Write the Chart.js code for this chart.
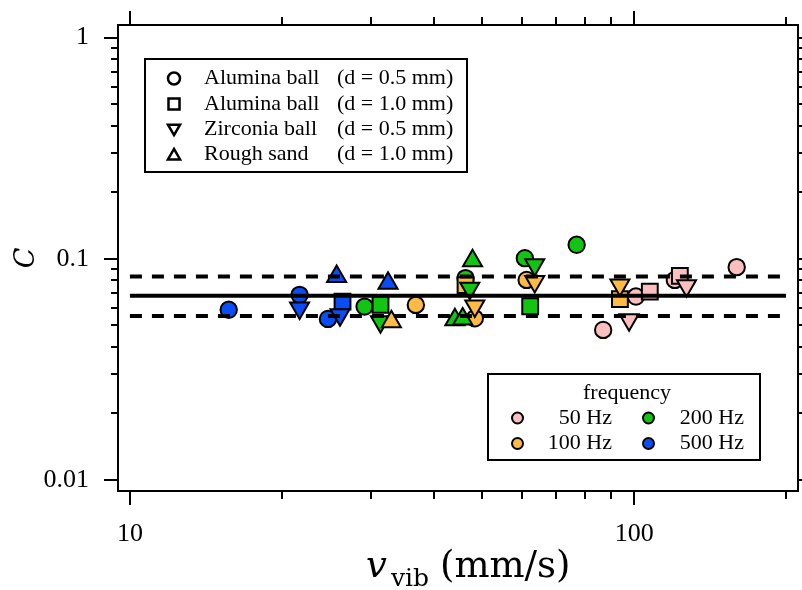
<!DOCTYPE html>
<html>
<head>
<meta charset="utf-8">
<script src="https://cdn.jsdelivr.net/npm/chart.js@4.4.1/dist/chart.umd.min.js"></script>
<style>
  html, body { margin: 0; padding: 0; background: #fff; }
  #contenedor { width: 802px; height: 590px; }
</style>
</head>
<body>
<div id="contenedor"><canvas id="grafico" width="802" height="590"></canvas></div>
<script>
// --- DATOS ---
const freqNombres = ['50 Hz', '100 Hz', '200 Hz', '500 Hz'];
const freqColores = ['#fbbfc0', '#fdba45', '#12c512', '#0b4df5'];

// Alumina ball (d = 0.5 mm) -> circulos ; freq = indice en freqNombres
const circV = [15.7, 21.7, 24.7, 29.2, 46.3, 60.7, 76.9, 36.9, 48.3, 61.2, 86.8, 100.8, 120.4, 159.7];
const circC = [0.0588, 0.0687, 0.0535, 0.0608, 0.0818, 0.1007, 0.1157, 0.0619, 0.0538, 0.0803, 0.0477, 0.0675, 0.0803, 0.0917];
const circF = [3, 3, 3, 2, 2, 2, 2, 1, 1, 1, 0, 0, 0, 0];

// Alumina ball (d = 1.0 mm) -> cuadrados
const cuadV = [26.4, 31.4, 62.2, 46.3, 93.7, 107.4, 123.2];
const cuadC = [0.064, 0.0619, 0.061, 0.076, 0.0657, 0.0711, 0.0837];
const cuadF = [3, 2, 2, 1, 1, 0, 0];

// Zirconia ball (d = 0.5 mm) -> triangulos invertidos
const zircV = [21.7, 26.1, 31.4, 47.2, 63.5, 48.3, 63.5, 93.7, 97.7, 127];
const zircC = [0.060, 0.0558, 0.052, 0.0736, 0.094, 0.0612, 0.0789, 0.0762, 0.053, 0.0755];
const zircF = [3, 3, 2, 2, 2, 1, 1, 1, 0, 0];

// Rough sand (d = 1.0 mm) -> triangulos
const arenaV = [25.7, 32.5, 44.1, 45.7, 47.8, 33.0];
const arenaC = [0.0832, 0.0776, 0.053, 0.0535, 0.098, 0.052];
const arenaF = [3, 3, 2, 2, 2, 1];

// Ajuste y banda
const lineaV = [10, 200];
const ajusteC = 0.068;
const superiorC = 0.0832;
const inferiorC = 0.0551;

// Marcas de ejes
const xTicks = [10, 20, 30, 40, 50, 60, 70, 80, 90, 100, 200];
const xMayores = [10, 100];
const xEtiquetas = ['10', '100'];
const yTicks = [0.01, 0.02, 0.03, 0.04, 0.05, 0.06, 0.07, 0.08, 0.09,
                0.1, 0.2, 0.3, 0.4, 0.5, 0.6, 0.7, 0.8, 0.9, 1];
const yMayores = [0.01, 0.1, 1];
const yEtiquetas = ['0.01', '0.1', '1'];

const leyendaMateriales = [
  { forma: 'circulo', nombre: 'Alumina ball', d: '(d = 0.5 mm)' },
  { forma: 'cuadrado', nombre: 'Alumina ball', d: '(d = 1.0 mm)' },
  { forma: 'invertido', nombre: 'Zirconia ball', d: '(d = 0.5 mm)' },
  { forma: 'triangulo', nombre: 'Rough sand', d: '(d = 1.0 mm)' }
];

function puntos(vs, cs) { return vs.map((v, i) => ({ x: v, y: cs[i] })); }
function colores(fs) { return fs.map(f => freqColores[f]); }

const serif = '"Liberation Serif", "Times New Roman", serif';

// --- MARCAS, MARCO, LEYENDAS Y TITULO X ---
function dibujarForma(ctx, forma, x, y, r) {
  ctx.beginPath();
  if (forma === 'circulo') {
    ctx.arc(x, y, r, 0, Math.PI * 2);
  } else if (forma === 'cuadrado') {
    ctx.rect(x - r, y - r, 2 * r, 2 * r);
  } else if (forma === 'triangulo') {
    ctx.moveTo(x, y - r * 1.05);
    ctx.lineTo(x + r * 1.1, y + r * 0.85);
    ctx.lineTo(x - r * 1.1, y + r * 0.85);
    ctx.closePath();
  } else {
    ctx.moveTo(x, y + r * 1.05);
    ctx.lineTo(x + r * 1.1, y - r * 0.85);
    ctx.lineTo(x - r * 1.1, y - r * 0.85);
    ctx.closePath();
  }
}

const decoracion = {
  id: 'decoracion',
  afterDraw(chart) {
    const { ctx, chartArea: a, scales: { x, y } } = chart;
    ctx.save();
    ctx.strokeStyle = '#000';
    ctx.fillStyle = '#000';

    // marco
    ctx.lineWidth = 2;
    ctx.strokeRect(a.left, a.top, a.right - a.left, a.bottom - a.top);

    // marcas hacia afuera
    ctx.beginPath();
    xTicks.forEach(v => {
      const px = Math.round(x.getPixelForValue(v));
      const len = xMayores.includes(v) ? 14 : 8;
      ctx.moveTo(px, a.bottom); ctx.lineTo(px, a.bottom + len);
      ctx.moveTo(px, a.top); ctx.lineTo(px, a.top - len);
    });
    yTicks.forEach(v => {
      const py = Math.round(y.getPixelForValue(v));
      const len = yMayores.includes(v) ? 14 : 7;
      ctx.moveTo(a.left, py); ctx.lineTo(a.left - len, py);
      ctx.moveTo(a.right, py); ctx.lineTo(a.right + len, py);
    });
    ctx.stroke();

    // leyenda de materiales
    ctx.fillStyle = '#fff';
    ctx.fillRect(145, 59, 322, 113);
    ctx.lineWidth = 2;
    ctx.strokeRect(145, 59, 322, 113);
    ctx.font = '22px ' + serif;
    ctx.textBaseline = 'middle';
    ctx.textAlign = 'left';
    leyendaMateriales.forEach((m, i) => {
      const fy = 78.5 + i * 25.4;
      ctx.lineWidth = 2.5;
      ctx.strokeStyle = '#000';
      dibujarForma(ctx, m.forma, 174, fy, m.forma === 'circulo' ? 6 : 5.5);
      ctx.stroke();
      ctx.fillStyle = '#000';
      ctx.fillText(m.nombre, 204, fy);
      ctx.fillText(m.d, 337, fy);
    });

    // leyenda de frecuencias
    ctx.fillStyle = '#fff';
    ctx.fillRect(488, 374, 272, 86);
    ctx.lineWidth = 2;
    ctx.strokeRect(488, 374, 272, 86);
    ctx.fillStyle = '#000';
    ctx.textAlign = 'center';
    ctx.fillText('frequency', 627, 393);
    const colsX = [517.5, 648.5];
    const colsTexto = [612, 744];
    freqNombres.forEach((nombre, i) => {
      const col = i < 2 ? 0 : 1;
      const fy = i % 2 === 0 ? 418 : 443.5;
      ctx.lineWidth = 2;
      ctx.fillStyle = freqColores[i];
      dibujarForma(ctx, 'circulo', colsX[col], fy, 5.5);
      ctx.fill();
      ctx.stroke();
      ctx.fillStyle = '#000';
      ctx.textAlign = 'right';
      ctx.fillText(nombre, colsTexto[col], fy);
    });

    // titulo eje x con subindice
    ctx.textAlign = 'left';
    ctx.textBaseline = 'alphabetic';
    ctx.font = 'italic 37px "DejaVu Serif", serif';
    ctx.fillText('v', 366, 577);
    ctx.font = '25px "DejaVu Serif", serif';
    ctx.fillText('vib', 391, 586);
    ctx.font = '37px "DejaVu Serif", serif';
    ctx.fillText('(mm/s)', 440, 577);

    ctx.restore();
  }
};

// --- CONSTRUCCION DEL GRAFICO ---
const ctx = document.getElementById('grafico').getContext('2d');
const miGrafico = new Chart(ctx, {
  data: {
    datasets: [
      { type: 'line', label: 'ajuste', data: puntos(lineaV, [ajusteC, ajusteC]), borderColor: '#000', borderWidth: 4, pointRadius: 0, order: 0 },
      { type: 'line', label: 'superior', data: puntos(lineaV, [superiorC, superiorC]), borderColor: '#000', borderWidth: 4, borderDash: [12, 10], pointRadius: 0, order: 0 },
      { type: 'line', label: 'inferior', data: puntos(lineaV, [inferiorC, inferiorC]), borderColor: '#000', borderWidth: 4, borderDash: [12, 10], pointRadius: 0, order: 0 },
      { type: 'scatter', label: 'Rough sand', data: puntos(arenaV, arenaC), pointStyle: 'triangle', pointRadius: 11, backgroundColor: colores(arenaF), borderColor: '#000', borderWidth: 2, order: 1 },
      { type: 'scatter', label: 'Zirconia ball', data: puntos(zircV, zircC), pointStyle: 'triangle', rotation: 180, pointRadius: 11, backgroundColor: colores(zircF), borderColor: '#000', borderWidth: 2, order: 2 },
      { type: 'scatter', label: 'Alumina ball 1.0', data: puntos(cuadV, cuadC), pointStyle: 'rect', pointRadius: 11.2, backgroundColor: colores(cuadF), borderColor: '#000', borderWidth: 2, order: 3 },
      { type: 'scatter', label: 'Alumina ball 0.5', data: puntos(circV, circC), pointStyle: 'circle', pointRadius: 8.2, backgroundColor: colores(circF), borderColor: '#000', borderWidth: 2, order: 4 }
    ]
  },
  options: {
    responsive: false,
    devicePixelRatio: 1,
    animation: false,
    layout: { autoPadding: false, padding: { top: 25, right: 4, left: 0, bottom: 0 } },
    plugins: { legend: { display: false }, tooltip: { enabled: false } },
    scales: {
      x: {
        type: 'logarithmic',
        position: 'bottom',
        min: 9.47,
        max: 211.3,
        grid: { display: false, drawTicks: false },
        border: { display: false },
        afterBuildTicks: s => { s.ticks = xTicks.map(v => ({ value: v })); },
        afterFit: s => { s.height = 99; s.paddingLeft = 0; s.paddingRight = 0; },
        ticks: {
          autoSkip: false,
          maxRotation: 0,
          padding: 28,
          color: '#000',
          font: { family: serif, size: 26 },
          callback: v => { const i = xMayores.indexOf(v); return i >= 0 ? xEtiquetas[i] : ''; }
        }
      },
      y: {
        type: 'logarithmic',
        position: 'left',
        min: 0.00892,
        max: 1.14,
        grid: { display: false, drawTicks: false },
        border: { display: false },
        afterBuildTicks: s => { s.ticks = yTicks.map(v => ({ value: v })); },
        afterFit: s => { s.width = 118; s.paddingTop = 0; s.paddingBottom = 0; },
        title: {
          display: true,
          text: 'C',
          color: '#000',
          font: { family: '"DejaVu Serif", serif', size: 27, style: 'italic' },
          padding: { top: 11, bottom: 0 }
        },
        ticks: {
          autoSkip: false,
          padding: 29,
          color: '#000',
          font: { family: serif, size: 26 },
          callback: v => { const i = yMayores.indexOf(v); return i >= 0 ? yEtiquetas[i] : ''; }
        }
      }
    }
  },
  plugins: [decoracion]
});
</script>
</body>
</html>
